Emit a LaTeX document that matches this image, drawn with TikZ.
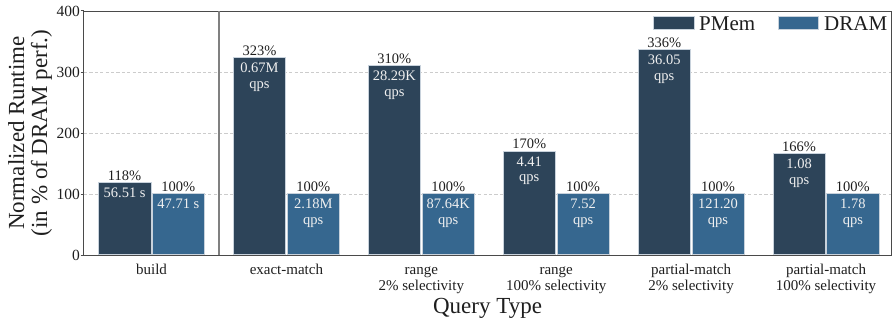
\documentclass[tikz,border=0pt]{standalone}
\usepackage{fontspec}
\setmainfont{Liberation Serif}
\usetikzlibrary{calc}
\definecolor{pmemc}{HTML}{2D4459}
\definecolor{dramc}{HTML}{36678F}
\definecolor{txt}{HTML}{1E1E1E}
\definecolor{framec}{HTML}{4A4A4A}
\definecolor{edgec}{HTML}{C8D2DC}
\tikzset{
  barbox/.style={draw=edgec, line width=0.6pt, minimum width=52.4pt, inner sep=0pt, anchor=south},
  pct/.style={font=\fontsize{14.5}{15}\selectfont, text=txt, anchor=base, inner sep=0pt},
  val/.style={font=\fontsize{14.5}{15}\selectfont, text=white!94!black, anchor=base, inner sep=0pt},
  cat/.style={font=\fontsize{15}{16}\selectfont, text=txt, anchor=base, inner sep=0pt},
  ticklab/.style={font=\fontsize{15.5}{16}\selectfont, text=txt, anchor=east, inner sep=0pt},
  grid line/.style={draw=black!20, dash pattern=on 3.2pt off 2.2pt, line width=0.7pt},
  frame line/.style={draw=framec, line width=1pt},
  legtext/.style={font=\fontsize{21}{22}\selectfont, text=txt, anchor=base west, inner sep=0pt},
  bigtext/.style={font=\fontsize{23}{24}\selectfont, text=txt, inner sep=0pt}
}
\begin{document}
\begin{tikzpicture}[x=1pt,y=-1pt]
\useasboundingbox (0,0) rectangle (893,324);
% grid
\foreach \v in {100,200,300}{
  \pgfmathsetmacro\yy{255-0.61*\v}
  \draw[grid line] (84,\yy) -- (891,\yy);
}
% bars
\foreach \i/\c/\p/\pa/\pb/\da/\db in {
  1/151.5/118/56.51 s//47.71 s/,
  2/286.4/323/0.67M/qps/2.18M/qps,
  3/421.3/310/28.29K/qps/87.64K/qps,
  4/556.2/170/4.41/qps/7.52/qps,
  5/691.1/336/36.05/qps/121.20/qps,
  6/826.0/166/1.08/qps/1.78/qps}{
  \pgfmathsetmacro\hp{0.61*\p}
  \pgfmathsetmacro\hd{0.61*100}
  \node[barbox, fill=pmemc, minimum height=\hp pt] (pm\i) at (\c-26.9,255) {};
  \node[barbox, fill=dramc, minimum height=\hd pt] (dr\i) at (\c+26.9,255) {};
  \node[pct] (pmp\i) at ($(pm\i.north)+(0,-1.8)$) {\p\%};
  \node[pct] (drp\i) at ($(dr\i.north)+(0,-1.8)$) {100\%};
  \node[val] (pmv\i) at ($(pm\i.north)+(0,15.3)$) {\pa};
  \node[val] (pmq\i) at ($(pm\i.north)+(0,31)$) {\pb};
  \node[val] (drv\i) at ($(dr\i.north)+(0,15.3)$) {\da};
  \node[val] (drq\i) at ($(dr\i.north)+(0,31)$) {\db};
}
% category labels
\node[cat] (c1) at (151.5,274.5) {build};
\node[cat] (c2) at (286.4,274.5) {exact-match};
\node[cat] (c3a) at (421.3,274.5) {range};
\node[cat] (c3b) at (421.3,290.5) {2\% selectivity};
\node[cat] (c4a) at (556.2,274.5) {range};
\node[cat] (c4b) at (556.2,290.5) {100\% selectivity};
\node[cat] (c5a) at (691.1,274.5) {partial-match};
\node[cat] (c5b) at (691.1,290.5) {2\% selectivity};
\node[cat] (c6a) at (826.0,274.5) {partial-match};
\node[cat] (c6b) at (826.0,290.5) {100\% selectivity};
% frame
\draw[frame line] (83.5,11) rectangle (891,255);
\draw[draw=black!50, line width=1.3pt] (219,11) -- (219,255);
% ticks
\foreach \v in {0,100,200,300,400}{
  \pgfmathsetmacro\yy{255-0.61*\v}
  \draw[frame line] (80.5,\yy) -- (83.5,\yy);
  \node[ticklab] (t\v) at (80,\yy) {\v};
}
% legend
\node[draw=edgec, line width=0.5pt, fill=pmemc, minimum width=41pt, minimum height=13.3pt, inner sep=0pt, anchor=north west] (lg1) at (653.3,16) {};
\node[legtext] (lt1) at (699,30) {PMem};
\node[draw=edgec, line width=0.5pt, fill=dramc, minimum width=40.6pt, minimum height=13.3pt, inner sep=0pt, anchor=north west] (lg2) at (777.7,16) {};
\node[legtext] (lt2) at (824,30) {DRAM};
% axis titles
\node[bigtext, anchor=base] (xt) at (487.5,313) {Query Type};
\node[bigtext, rotate=90, align=center, font=\fontsize{23}{23}\selectfont] (yt) at (30,133) {Normalized Runtime\\(in \% of DRAM perf.)};
\end{tikzpicture}
\end{document}
